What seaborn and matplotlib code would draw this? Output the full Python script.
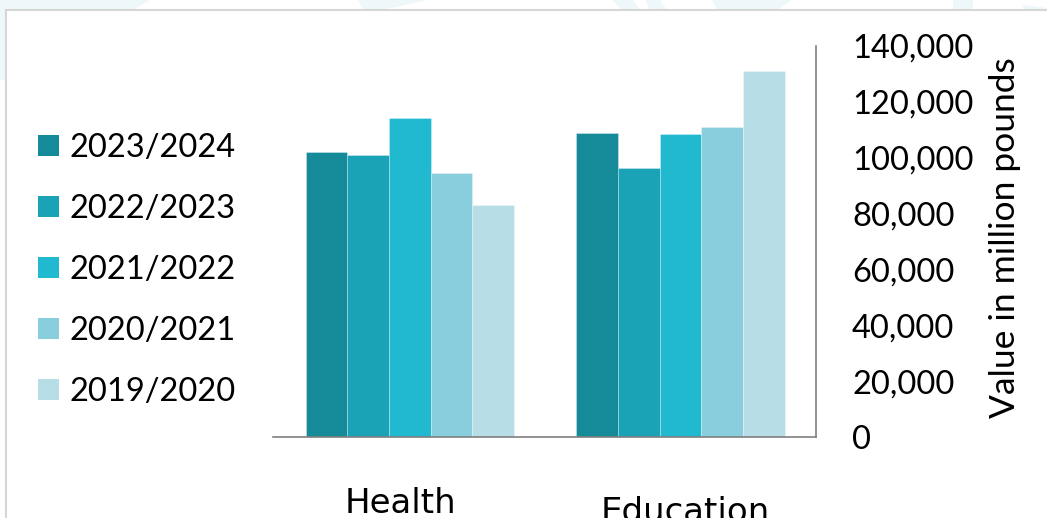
import matplotlib
matplotlib.use("Agg")
import matplotlib.pyplot as plt
from matplotlib.patches import Patch, Polygon, Rectangle
from matplotlib.ticker import FuncFormatter
from matplotlib.transforms import ScaledTranslation
import seaborn as sns
import pandas as pd

# Spending by area and financial year (million pounds)
categories = ["Health", "Education"]
years = ["2023/2024", "2022/2023", "2021/2022", "2020/2021", "2019/2020"]
health = [102000, 101000, 114300, 94400, 83100]
education = [108800, 96300, 108500, 110900, 131000]
colors = ["#158B9A", "#1AA2B6", "#20B9D0", "#89CEDD", "#B7DEE7"]

rows = []
for yr, h, e in zip(years, health, education):
    rows.append({"area": categories[0], "year": yr, "value": h})
    rows.append({"area": categories[1], "year": yr, "value": e})
df = pd.DataFrame(rows)

W, H = 1047, 518
sns.set_theme(style="white")
plt.rcParams["font.family"] = ["Lato", "DejaVu Sans"]
plt.rcParams["text.color"] = "black"

fig = plt.figure(figsize=(W / 100, H / 100), dpi=100)
fig.patch.set_facecolor("white")


def px(x, y):
    return (x / W, 1 - y / H)


# faint background ornaments around the panel frame
wm = "#EEF7FA"
shapes = [
    [(0, 0), (150, 0), (133, 10), (7, 10), (7, 80), (0, 80)],
    [(358, 0), (427, 0), (382, 10), (363, 10)],
    [(612, 0), (633, 0), (640, 10), (622, 10)],
    [(645, 0), (660, 0), (667, 10), (650, 10)],
    [(712, 0), (792, 0), (777, 10), (717, 10)],
    [(953, 0), (973, 0), (973, 10), (953, 10)],
    [(1023, 5), (1047, 8), (1047, 10), (1023, 10)],
]
for s in shapes:
    fig.add_artist(Polygon([px(*p) for p in s], closed=True, facecolor=wm,
                           edgecolor="none", transform=fig.transFigure, zorder=0))

# panel frame
x0, y0 = px(6, 10)
fig.add_artist(Rectangle((x0, -0.2), 1.4 - x0, y0 + 0.2, transform=fig.transFigure,
                         facecolor="white", edgecolor="#D6D6D6", linewidth=1.5,
                         zorder=0.5))

ax = fig.add_axes([273 / W, 1 - 437 / H, (816 - 273) / W, (437 - 46) / H])
ax.set_zorder(2)
ax.set_facecolor("none")

sns.barplot(data=df, x="area", y="value", hue="year", hue_order=years,
            order=categories, palette=colors, width=0.77, gap=0,
            edgecolor=(1, 1, 1, 0.35), linewidth=0.6, legend=False,
            saturation=1, ax=ax, zorder=2)

ax.set_ylim(0, 140000)
ax.set_xlim(-0.506, 1.5)
ax.set_yticks(range(0, 140001, 20000))
ax.yaxis.set_major_formatter(FuncFormatter(lambda v, _: f"{int(v):,}"))
ax.yaxis.tick_right()
ax.yaxis.set_label_position("right")
ax.tick_params(axis="y", length=0, pad=26, labelsize=23.5, labelcolor="black")
ax.tick_params(axis="x", length=0, pad=36, labelsize=24.5, labelcolor="black")
for lab in ax.get_yticklabels():
    lab.set_horizontalalignment("left")

for name in ["left", "top"]:
    ax.spines[name].set_visible(False)
for name in ["right", "bottom"]:
    ax.spines[name].set_visible(True)
    ax.spines[name].set_color("#7F7F7F")
    ax.spines[name].set_linewidth(1.2)

ax.set_xlabel("")
ax.set_ylabel("Value in million pounds", fontsize=25.5, color="black")
ax.yaxis.set_label_coords(1.318, 0.51)
ax.grid(False)

# category labels in a separate sans face, each nudged slightly
offsets = [(-10, 0), (5, -9)]
for lab, (dx, dy) in zip(ax.get_xticklabels(), offsets):
    lab.set_fontfamily("DejaVu Sans")
    lab.set_transform(lab.get_transform() +
                      ScaledTranslation(dx / 100, dy / 100, fig.dpi_scale_trans))

handles = [Patch(facecolor=c, edgecolor="none", label=y) for c, y in zip(colors, years)]
fig.legend(handles=handles, loc="center left", bbox_to_anchor=(38 / W, 1 - 270 / H),
           frameon=False, fontsize=23.5, handlelength=0.64, handleheight=0.64,
           handletextpad=0.34, labelspacing=0.95, borderpad=0, borderaxespad=0)

fig.savefig("out.png", dpi=100, facecolor="white")
